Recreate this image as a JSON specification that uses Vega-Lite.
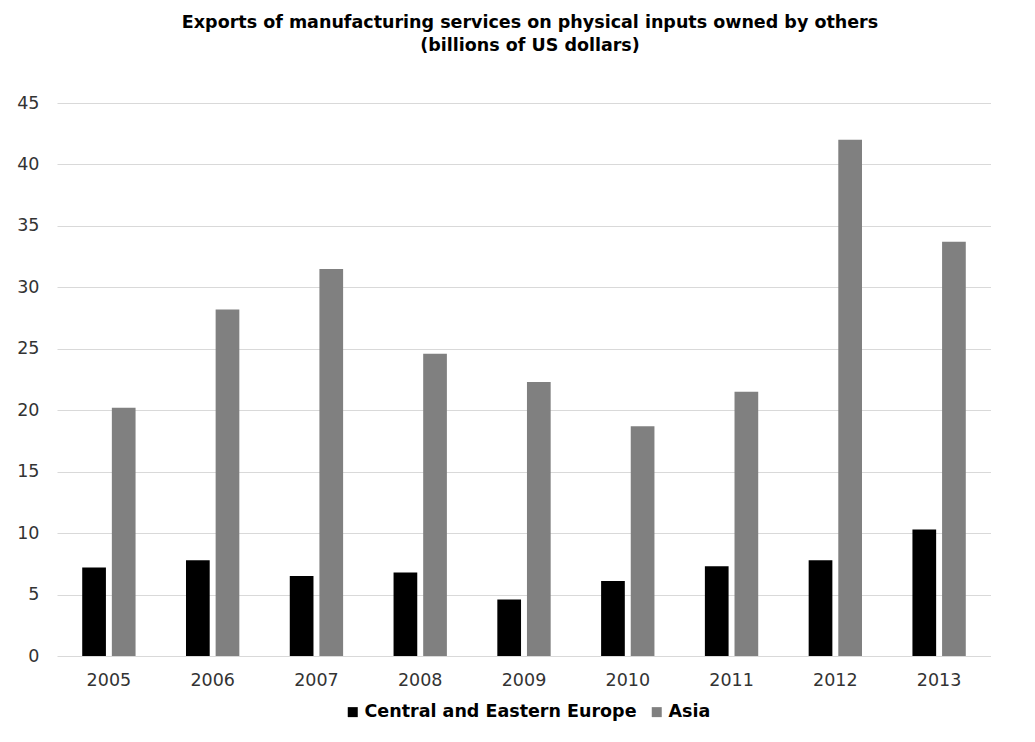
{
  "$schema": "https://vega.github.io/schema/vega-lite/v6.json",
  "width": 934,
  "height": 553,
  "padding": {"left": 16, "top": 13, "right": 0, "bottom": 0},
  "background": "white",
  "title": {
    "text": ["Exports of manufacturing services on physical inputs owned by others", "(billions of US dollars)"],
    "font": "DejaVu Sans",
    "fontSize": 17.5,
    "fontWeight": "bold",
    "color": "#000000",
    "anchor": "middle",
    "frame": "group",
    "dx": 6,
    "lineHeight": 23,
    "offset": 40
  },
  "data": {
    "values": [
      {"year": "2005", "region": "Central and Eastern Europe", "value": 7.2},
      {"year": "2006", "region": "Central and Eastern Europe", "value": 7.8},
      {"year": "2007", "region": "Central and Eastern Europe", "value": 6.5},
      {"year": "2008", "region": "Central and Eastern Europe", "value": 6.8},
      {"year": "2009", "region": "Central and Eastern Europe", "value": 4.6},
      {"year": "2010", "region": "Central and Eastern Europe", "value": 6.1},
      {"year": "2011", "region": "Central and Eastern Europe", "value": 7.3},
      {"year": "2012", "region": "Central and Eastern Europe", "value": 7.8},
      {"year": "2013", "region": "Central and Eastern Europe", "value": 10.3},
      {"year": "2005", "region": "Asia", "value": 20.2},
      {"year": "2006", "region": "Asia", "value": 28.2},
      {"year": "2007", "region": "Asia", "value": 31.5},
      {"year": "2008", "region": "Asia", "value": 24.6},
      {"year": "2009", "region": "Asia", "value": 22.3},
      {"year": "2010", "region": "Asia", "value": 18.7},
      {"year": "2011", "region": "Asia", "value": 21.5},
      {"year": "2012", "region": "Asia", "value": 42.0},
      {"year": "2013", "region": "Asia", "value": 33.7}
    ]
  },
  "mark": {"type": "bar"},
  "encoding": {
    "x": {
      "field": "year",
      "type": "nominal",
      "scale": {"paddingInner": 0.486, "paddingOuter": 0.243},
      "axis": {
        "title": null,
        "labelAngle": 0,
        "domain": false,
        "ticks": false,
        "labelFont": "DejaVu Sans",
        "labelFontSize": 17.5,
        "labelColor": "#333333",
        "labelPadding": 15
      }
    },
    "xOffset": {
      "field": "region",
      "type": "nominal",
      "sort": ["Central and Eastern Europe", "Asia"],
      "scale": {"paddingInner": 0.2, "paddingOuter": 0}
    },
    "y": {
      "field": "value",
      "type": "quantitative",
      "scale": {"domain": [0, 45], "nice": false},
      "axis": {
        "title": null,
        "values": [0, 5, 10, 15, 20, 25, 30, 35, 40, 45],
        "domain": false,
        "ticks": false,
        "grid": true,
        "gridColor": "#d9d9d9",
        "gridWidth": 1,
        "labelFont": "DejaVu Sans",
        "labelFontSize": 17.5,
        "labelColor": "#333333",
        "labelPadding": 18
      }
    },
    "color": {
      "field": "region",
      "type": "nominal",
      "sort": ["Central and Eastern Europe", "Asia"],
      "scale": {"domain": ["Central and Eastern Europe", "Asia"], "range": ["#000000", "#808080"]},
      "legend": {
        "title": null,
        "orient": "none",
        "legendX": 287,
        "legendY": 600,
        "padding": 0,
        "direction": "horizontal",
        "symbolType": "square",
        "symbolSize": 100,
        "symbolStrokeWidth": 0,
        "labelFont": "DejaVu Sans",
        "labelFontSize": 17.5,
        "labelFontWeight": "bold",
        "labelColor": "#000000",
        "labelLimit": 500,
        "labelOffset": 3,
        "columnPadding": 11
      }
    }
  },
  "config": {
    "view": {"stroke": null},
    "legend": {"symbolOpacity": 1}
  }
}
